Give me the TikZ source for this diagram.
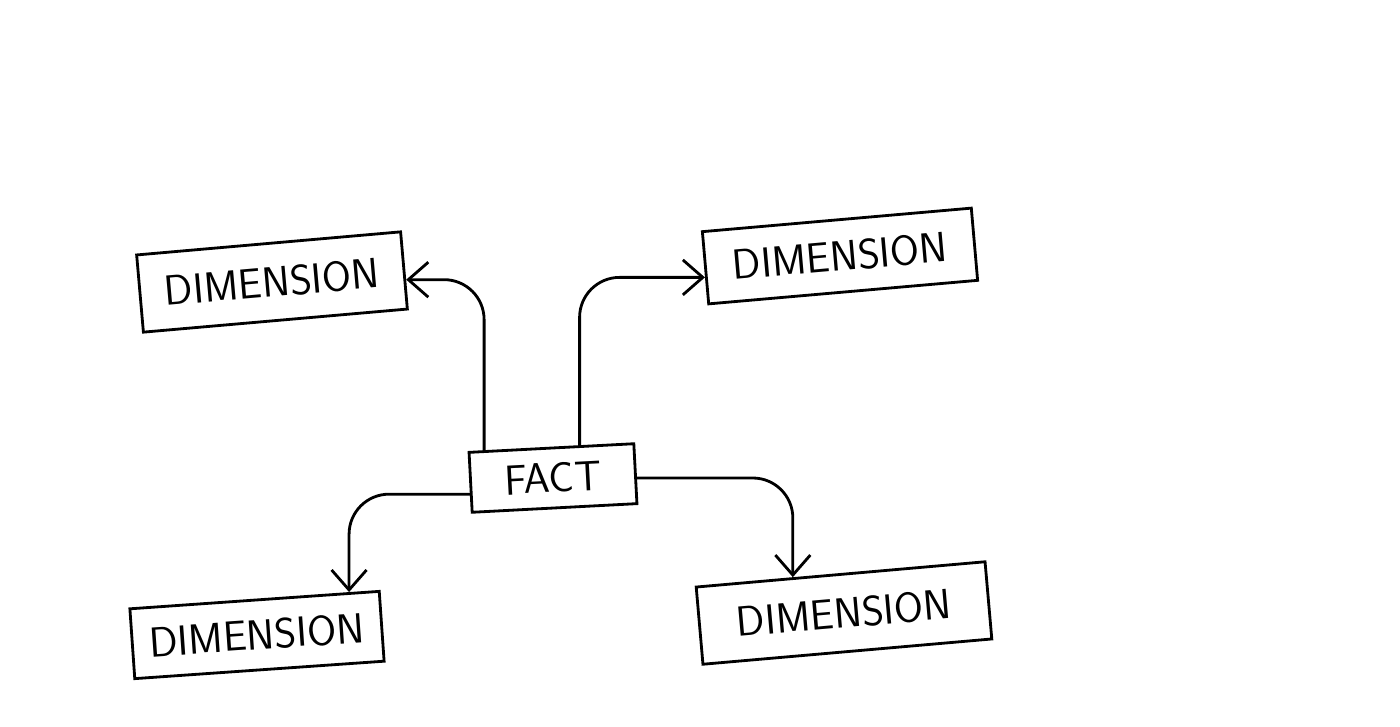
\documentclass[tikz,border=0pt]{standalone}
\usepackage{tikz}
\usetikzlibrary{arrows.meta}

\tikzset{
  box/.style={draw, line width=1.6pt, inner sep=0pt, font=\sffamily\fontsize{24}{28}\selectfont},
  link/.style={line width=1.6pt, rounded corners=0.8cm, -{Straight Barb[length=4mm,width=7mm,line width=1.6pt]}}
}

\begin{document}
\begin{tikzpicture}[x=0.02cm, y=-0.02cm]

    \useasboundingbox (0, 0) rectangle (1400, 727);

    \node[box, minimum width=5.3cm, minimum height=1.55cm, rotate=5] (tl) at (272, 282) {DIMENSION};
    \node[box, minimum width=5.4cm, minimum height=1.45cm, rotate=5] (tr) at (840, 256) {DIMENSION};
    \node[box, minimum width=3.3cm, minimum height=1.2cm, rotate=3] (fact) at (553, 478) {FACT};
    \node[box, minimum width=5.0cm, minimum height=1.4cm, rotate=4] (bl) at (257, 635) {DIMENSION};
    \node[box, minimum width=5.8cm, minimum height=1.55cm, rotate=5] (br) at (844, 613) {DIMENSION};

    \draw [link] (fact.155) |- (tl.-4);
    \draw [link] (fact.48) |- (tr.184);
    \draw [link] (fact.188) -| (bl.21);
    \draw [link] (fact.-3) -| (br.140);

\end{tikzpicture}
\end{document}
